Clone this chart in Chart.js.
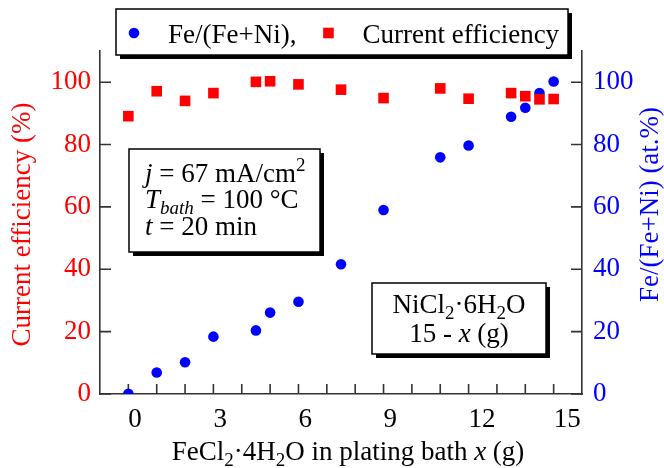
<!DOCTYPE html>
<html>
<head>
<meta charset="utf-8">
<script src="https://cdn.jsdelivr.net/npm/chart.js@4.4.0/dist/chart.umd.min.js"></script>
<style>
  html, body { margin: 0; padding: 0; background: #fff; }
  #wrap { width: 664px; height: 468px; position: relative; }
</style>
</head>
<body>
<div id="wrap"><canvas id="chart"></canvas></div>
<script>
// FeCl2.4H2O added to the bath (g)
const feAmount = [0, 1, 2, 3, 4.5, 5, 6, 7.5, 9, 11, 12, 13.5, 14, 14.5, 15];
// Fe/(Fe+Ni) in the deposit (at.%)
const feRatio = [0.1, 6.9, 10.2, 18.4, 20.4, 26.1, 29.6, 41.6, 59.0, 75.9, 79.7, 88.9, 91.8, 96.5, 100.2];
// current efficiency (%)
const currentEff = [89.1, 97.1, 94.0, 96.5, 100.1, 100.3, 99.3, 97.6, 94.9, 98.0, 94.7, 96.5, 95.5, 94.5, 94.6];

const xLabelValues = [0, 3, 6, 9, 12, 15];
const yLabelValues = [0, 20, 40, 60, 80, 100];

const FONT = '"Liberation Serif", "Times New Roman", serif';
const SIZE = 27;

// draws a line of text made of runs (italic, sub, sup)
function drawRich(ctx, runs, x, y, align, size) {
    const parts = runs.map(r => {
        const s = (r.sub || r.sup) ? Math.round(size * 0.7) : size;
        const font = (r.it ? 'italic ' : '') + s + 'px ' + FONT;
        ctx.font = font;
        return { text: r.t, font, w: ctx.measureText(r.t).width, dy: r.sub ? size * 0.24 : (r.sup ? -size * 0.42 : 0) };
    });
    const total = parts.reduce((a, p) => a + p.w, 0);
    let cx = align === 'center' ? x - total / 2 : (align === 'right' ? x - total : x);
    ctx.textAlign = 'left';
    ctx.textBaseline = 'alphabetic';
    parts.forEach(p => {
        ctx.font = p.font;
        ctx.fillText(p.text, cx, y + p.dy);
        cx += p.w;
    });
    return total;
}

function shadowBox(ctx, l, t, r, b) {
    ctx.fillStyle = '#000';
    ctx.fillRect(l + 4, t + 4, r - l, b - t);
    ctx.fillStyle = '#fff';
    ctx.fillRect(l, t, r - l, b - t);
    ctx.strokeStyle = '#000';
    ctx.lineWidth = 1.5;
    ctx.strokeRect(l, t, r - l, b - t);
}

// ticks pointing into the plot
const innerTicks = {
    id: 'innerTicks',
    beforeDatasetsDraw(chart) {
        const { ctx, chartArea: ca, scales } = chart;
        ctx.save();
        ctx.strokeStyle = '#333';
        ctx.lineWidth = 1.6;
        ctx.beginPath();
        scales.x.ticks.forEach(t => {
            if (t.value <= scales.x.min || t.value >= scales.x.max) return;
            const px = scales.x.getPixelForValue(t.value);
            ctx.moveTo(px, ca.bottom);
            ctx.lineTo(px, ca.bottom - 10);
        });
        scales.y.ticks.forEach(t => {
            const py = scales.y.getPixelForValue(t.value);
            const len = t.value % 20 === 0 ? 11 : 6;
            ctx.moveTo(ca.left, py);
            ctx.lineTo(ca.left + len, py);
        });
        scales.y1.ticks.forEach(t => {
            const py = scales.y1.getPixelForValue(t.value);
            const len = t.value % 20 === 0 ? 11 : 6;
            ctx.moveTo(ca.right, py);
            ctx.lineTo(ca.right - len, py);
        });
        ctx.stroke();
        ctx.restore();
    }
};

// legend, text boxes and axis titles
const decorations = {
    id: 'decorations',
    afterDraw(chart) {
        const { ctx, chartArea: ca } = chart;
        ctx.save();

        // legend
        shadowBox(ctx, 116, 9, 568, 55);
        let lx = 134;
        chart.data.datasets.forEach((ds, i) => {
            ctx.fillStyle = ds.backgroundColor;
            Chart.helpers.drawPoint(ctx, { pointStyle: ds.pointStyle, radius: ds.pointRadius, borderWidth: 0 }, lx, 33);
            ctx.fillStyle = '#000';
            const w = drawRich(ctx, [{ t: ds.label }], lx + 34, 43, 'left', SIZE);
            lx = lx + 34 + w + 32;
        });

        // conditions box
        shadowBox(ctx, 129, 149, 320, 252);
        ctx.fillStyle = '#000';
        drawRich(ctx, [{ t: 'j', it: true }, { t: ' = 67 mA/cm' }, { t: '2', sup: true }], 145, 182, 'left', SIZE);
        drawRich(ctx, [{ t: 'T', it: true }, { t: 'bath', it: true, sub: true }, { t: ' = 100 °C' }], 145, 208, 'left', SIZE);
        drawRich(ctx, [{ t: 't', it: true }, { t: ' = 20 min' }], 145, 235, 'left', SIZE);

        // NiCl2 box
        shadowBox(ctx, 372, 283, 546, 354);
        ctx.fillStyle = '#000';
        drawRich(ctx, [{ t: 'NiCl' }, { t: '2', sub: true }, { t: '·6H' }, { t: '2', sub: true }, { t: 'O' }], 459, 313, 'center', SIZE);
        drawRich(ctx, [{ t: '15 - ' }, { t: 'x', it: true }, { t: ' (g)' }], 459, 342, 'center', SIZE);

        // x title
        ctx.fillStyle = '#000';
        drawRich(ctx, [{ t: 'FeCl' }, { t: '2', sub: true }, { t: '·4H' }, { t: '2', sub: true },
            { t: 'O in plating bath ' }, { t: 'x', it: true }, { t: ' (g)' }], (ca.left + ca.right) / 2 + 7, 460, 'center', SIZE);

        // left title
        ctx.save();
        ctx.translate(30, (ca.top + ca.bottom) / 2 + 2);
        ctx.rotate(-Math.PI / 2);
        ctx.fillStyle = '#ff0000';
        drawRich(ctx, [{ t: 'Current efficiency (%)' }], 0, 0, 'center', SIZE);
        ctx.restore();

        // right title
        ctx.save();
        ctx.translate(658, (ca.top + ca.bottom) / 2 - 18);
        ctx.rotate(-Math.PI / 2);
        ctx.fillStyle = '#0000ff';
        drawRich(ctx, [{ t: 'Fe/(Fe+Ni) (at.%)' }], 0, 0, 'center', SIZE);
        ctx.restore();

        ctx.restore();
    }
};

const tickFont = { family: FONT, size: SIZE };
const axisBorder = { display: true, color: '#333', width: 1.6 };
const noGrid = { drawOnChartArea: false, drawTicks: false };

new Chart(document.getElementById('chart'), {
    type: 'scatter',
    data: {
        datasets: [{
            label: 'Fe/(Fe+Ni),',
            data: feAmount.map((x, i) => ({ x, y: feRatio[i] })),
            yAxisID: 'y1',
            backgroundColor: '#0000ff',
            borderColor: '#0000ff',
            pointStyle: 'circle',
            pointRadius: 5.3,
            pointBorderWidth: 0,
            order: 1
        }, {
            label: 'Current efficiency',
            data: feAmount.map((x, i) => ({ x, y: currentEff[i] })),
            yAxisID: 'y',
            backgroundColor: '#ff0000',
            borderColor: '#ff0000',
            pointStyle: 'rect',
            pointRadius: 7.5,
            pointBorderWidth: 0,
            order: 0
        }]
    },
    options: {
        responsive: true,
        maintainAspectRatio: false,
        animation: false,
        layout: { padding: { top: 51, left: 0, right: 0, bottom: 0 } },
        plugins: {
            legend: { display: false },
            tooltip: { enabled: false }
        },
        scales: {
            x: {
                type: 'linear', position: 'bottom', min: -1, max: 16,
                ticks: {
                    stepSize: 1, autoSkip: false, maxRotation: 0, align: 'start', padding: 10,
                    color: '#000', font: tickFont,
                    callback: v => xLabelValues.includes(v) ? String(v) : ''
                },
                grid: noGrid,
                border: axisBorder,
                afterFit: s => { s.height = 74; }
            },
            y: {
                type: 'linear', position: 'left', min: 0, max: 110,
                ticks: {
                    stepSize: 10, padding: 9, color: '#ff0000', font: tickFont,
                    callback: v => yLabelValues.includes(v) ? String(v) : ''
                },
                grid: noGrid,
                border: axisBorder,
                afterFit: s => { s.width = 100; }
            },
            y1: {
                type: 'linear', position: 'right', min: 0, max: 110,
                ticks: {
                    stepSize: 10, padding: 11, color: '#0000ff', font: tickFont,
                    callback: v => yLabelValues.includes(v) ? String(v) : ''
                },
                grid: noGrid,
                border: axisBorder,
                afterFit: s => { s.width = 82; }
            }
        }
    },
    plugins: [innerTicks, decorations]
});
</script>
</body>
</html>
